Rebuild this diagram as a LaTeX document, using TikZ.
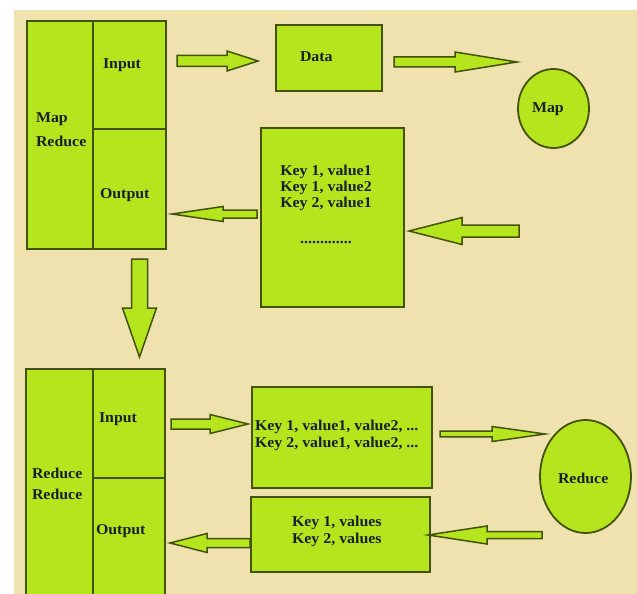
\documentclass[tikz,border=0pt]{standalone}
\usepackage{fontspec}
\setmainfont{Liberation Serif}[FakeStretch=1.06]
\usetikzlibrary{calc,shapes.geometric}
\definecolor{bgbeige}{HTML}{EFE2AF}
\definecolor{boxgreen}{HTML}{B5E61D}
\definecolor{boxline}{HTML}{435208}
\definecolor{txt}{HTML}{1A1F2C}
\tikzset{
  box/.style={draw=boxline, fill=boxgreen, line width=1.8pt, inner sep=0pt, outer sep=0pt},
  oval/.style={box, ellipse},
  lbl/.style={inner sep=0pt, outer sep=0pt, text=txt, font=\bfseries\fontsize{15}{16}\selectfont},
  arrowstyle/.style={draw=boxline, fill=boxgreen, line width=1.5pt, line join=miter},
}
\newcommand\blockarrow[5]{%
  \coordinate (ba-h) at ($(#2)!#5!(#1)$);
  \draw[arrowstyle] ($(#1)!#3!90:(#2)$) -- ($(ba-h)!#3!-90:(#1)$) -- ($(ba-h)!#4!-90:(#1)$)
     -- (#2) -- ($(ba-h)!#4!90:(#1)$) -- ($(ba-h)!#3!90:(#1)$) -- ($(#1)!#3!-90:(#2)$) -- cycle;
}
\begin{document}
\begin{tikzpicture}[x=1pt,y=-1pt]
\useasboundingbox (0,0) rectangle (637,594);
\clip (0,0) rectangle (637,594);
\fill[white] (0,0) rectangle (637,594);
\fill[bgbeige] (14,10) rectangle (637,594);

% top MapReduce block
\node[box, minimum width=66pt, minimum height=228pt] (mrL) at (60,135) {};
\node[box, minimum width=73pt, minimum height=108pt] (mrIn) at (129.5,75) {};
\node[box, minimum width=73pt, minimum height=120pt] (mrOut) at (129.5,189) {};
\node[lbl, anchor=north west, align=left, font=\bfseries\fontsize{15}{24}\selectfont] (mrT) at (36,113) {Map\\Reduce};
\node[lbl, anchor=base west] (mrInT) at (103,69) {Input};
\node[lbl, anchor=base west] (mrOutT) at (100,198) {Output};

% data, map, key/value list
\node[box, minimum width=106pt, minimum height=66pt] (data) at (329,58) {};
\node[lbl, anchor=base west] (dataT) at (300,62) {Data};
\node[oval, minimum width=71pt, minimum height=79pt] (map) at (553.5,108.5) {};
\node[lbl, anchor=base west] (mapT) at (532,112) {Map};
\node[box, minimum width=143pt, minimum height=179pt] (kv) at (332.5,217.5) {};
\node[lbl, anchor=north, align=center] (kvT) at (326,164.8) {Key 1, value1\\Key 1, value2\\Key 2, value1\\[20pt].............};

% bottom Reduce block
\node[box, minimum width=67pt, minimum height=251pt] (rdL) at (59.5,494.5) {};
\node[box, minimum width=72pt, minimum height=109pt] (rdIn) at (129,423.5) {};
\node[box, minimum width=72pt, minimum height=142pt] (rdOut) at (129,549) {};
\node[lbl, anchor=north west, align=left, font=\bfseries\fontsize{15}{21}\selectfont] (rdT) at (32,467.8) {Reduce\\Reduce};
\node[lbl, anchor=base west] (rdInT) at (99,422) {Input};
\node[lbl, anchor=base west] (rdOutT) at (96,534) {Output};

\node[box, minimum width=180pt, minimum height=101pt] (kb1) at (342,437.5) {};
\node[lbl, anchor=north west, align=left, font=\bfseries\fontsize{15}{17}\selectfont] (kb1T) at (255,419.8) {Key 1, value1, value2, ...\\Key 2, value1, value2, ...};
\node[box, minimum width=179pt, minimum height=75pt] (kb2) at (340.5,534.5) {};
\node[lbl, anchor=north west, align=left, font=\bfseries\fontsize{15}{17}\selectfont] (kb2T) at (292,515.8) {Key 1, values\\Key 2, values};
\node[oval, minimum width=91pt, minimum height=113pt] (red) at (585.5,476.5) {};
\node[lbl, anchor=base west] (redT) at (558,483) {Reduce};

% arrow end points
\coordinate (a1s) at (177,61);   \coordinate (a1e) at (258,61);
\coordinate (a2s) at (394,62);   \coordinate (a2e) at (517,62);
\coordinate (a3s) at (519,231);  \coordinate (a3e) at (409,231);
\coordinate (a4s) at (257,214);  \coordinate (a4e) at (172,214);
\coordinate (a5s) at (139.5,259);\coordinate (a5e) at (139.5,357);
\coordinate (a6s) at (171,424);  \coordinate (a6e) at (248,424);
\coordinate (a7s) at (440,434);  \coordinate (a7e) at (545,434);
\coordinate (a8s) at (542,535);  \coordinate (a8e) at (428,535);
\coordinate (a9s) at (250,543);  \coordinate (a9e) at (170,543);

\blockarrow{a1s}{a1e}{5.5pt}{10pt}{31pt}
\blockarrow{a2s}{a2e}{5pt}{10pt}{62pt}
\blockarrow{a3s}{a3e}{6pt}{13.5pt}{53pt}
\blockarrow{a4s}{a4e}{4pt}{7.5pt}{51pt}
\blockarrow{a5s}{a5e}{8pt}{17pt}{49pt}
\blockarrow{a6s}{a6e}{5pt}{9.5pt}{38pt}
\blockarrow{a7s}{a7e}{2.8pt}{7.5pt}{53pt}
\blockarrow{a8s}{a8e}{3.5pt}{9pt}{59pt}
\blockarrow{a9s}{a9e}{4.5pt}{9.5pt}{37pt}
\end{tikzpicture}
\end{document}
